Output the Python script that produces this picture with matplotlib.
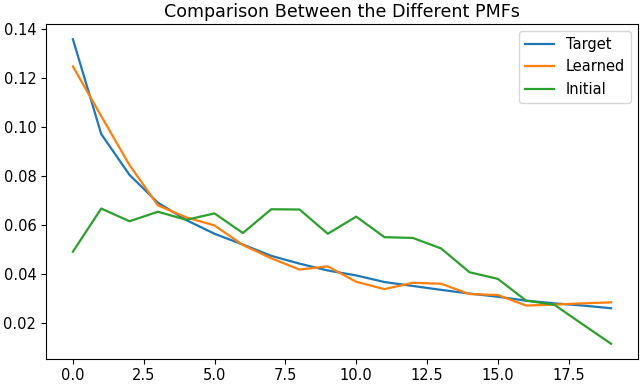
import numpy as np
import matplotlib.pyplot as plt

# PMF values
k = np.arange(20)
target = [0.1359, 0.0972, 0.0805, 0.0692, 0.0621, 0.0565, 0.0521, 0.0475, 0.0443, 0.0415,
          0.0395, 0.0368, 0.0352, 0.0336, 0.0321, 0.0308, 0.0292, 0.0281, 0.0272, 0.0261]
learned = [0.1248, 0.1045, 0.0845, 0.0681, 0.0632, 0.0599, 0.0519, 0.0465, 0.0419, 0.0432,
           0.0369, 0.0339, 0.0365, 0.0361, 0.0319, 0.0315, 0.0272, 0.0276, 0.0281, 0.0285]
initial = [0.0492, 0.0668, 0.0616, 0.0655, 0.0622, 0.0648, 0.0568, 0.0665, 0.0664, 0.0565,
           0.0635, 0.0551, 0.0548, 0.0505, 0.0408, 0.0381, 0.0292, 0.0275, 0.0195, 0.0116]

plt.rcParams['font.size'] = 10.5
plt.rcParams['lines.linewidth'] = 1.6

fig = plt.figure(figsize=(6.4, 3.86), dpi=100)
ax = fig.add_subplot(111)
ax.plot(k, target, label="Target")
ax.plot(k, learned, label="Learned")
ax.plot(k, initial, label="Initial")
ax.set_title("Comparison Between the Different PMFs", fontsize=12.6, pad=5)
ax.legend(loc="upper right")
ax.tick_params(axis='x', pad=3)
fig.subplots_adjust(left=46/640, right=638/640, bottom=27/386, top=1-24/386)
plt.savefig("out.png", dpi=100)
